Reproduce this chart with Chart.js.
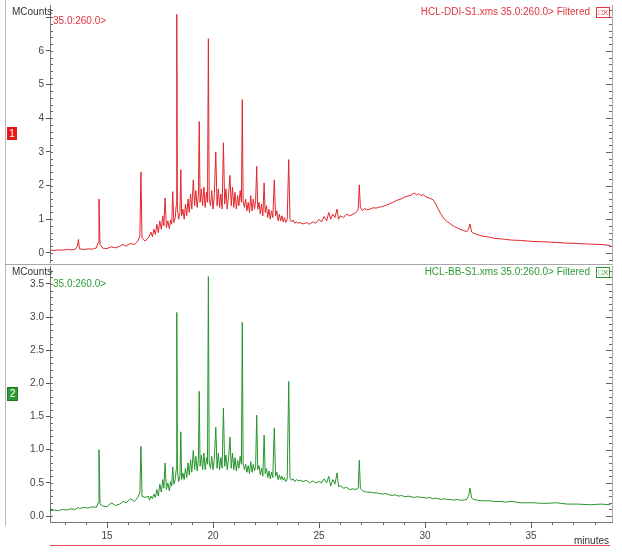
<!DOCTYPE html>
<html>
<head>
<meta charset="utf-8">
<script src="https://cdn.jsdelivr.net/npm/chart.js@4/dist/chart.umd.min.js"></script>
<style>
  body { margin: 0; width: 622px; height: 552px; background: #fff; position: relative; overflow: hidden;
         font-family: "Liberation Sans", Arial, sans-serif; }
  canvas { position: absolute; left: 0; }
  .t { position: absolute; font-size: 10px; white-space: nowrap; line-height: 12px; }
  .unit { color: #333; }
  .red { color: #e0353d; }
  .green { color: #2e9a34; }
  .box { position: absolute; width: 10px; height: 13px; font-size: 10px; line-height: 13px; text-align: center; color: #fff; }
  .ic { position: absolute; width: 12px; height: 9px; font-size: 8px; line-height: 9px; text-align: center; }
</style>
</head>
<body>
<div style="position:absolute;left:5px;top:0;width:1px;height:526px;background:#b8b8b8"></div>
<div style="position:absolute;left:5px;top:264px;width:608px;height:1px;background:#a8a8a8"></div>

<canvas id="ddiChart" width="622" height="264" style="top:0"></canvas>
<canvas id="bbChart" width="622" height="288" style="top:264px"></canvas>

<div class="t unit" style="left:12px;top:6px">MCounts</div>
<div class="t red" style="left:53px;top:15px">35.0:260.0&gt;</div>
<div class="t red" style="right:32px;top:6px">HCL-DDI-S1.xms 35.0:260.0&gt; Filtered</div>
<div class="ic" style="left:596px;top:7px;border:1px solid #e0353d;color:#e0353d">&#9633;X</div>
<div class="box" style="left:7px;top:127px;background:#e81818">1</div>

<div class="t unit" style="left:12px;top:266px">MCounts</div>
<div class="t green" style="left:53px;top:278px">35.0:260.0&gt;</div>
<div class="t green" style="right:32px;top:266px">HCL-BB-S1.xms 35.0:260.0&gt; Filtered</div>
<div class="ic" style="left:596px;top:267px;border:1px solid #2e9a34;color:#2e9a34">&#9633;X</div>
<div class="box" style="left:7px;top:387px;background:#2e9a34;border:1px solid #1d7a22;width:9px;height:12px;line-height:12px">2</div>

<div class="t unit" style="left:574px;top:535px">minutes</div>
<div style="position:absolute;left:50px;top:545px;width:560px;height:1px;background:#e34a4a"></div>

<script>
// retention time (minutes), shared by both traces
const minutes = [
  12.31,12.50,12.70,12.90,13.10,13.30,13.50,13.60,13.65,13.70,
  13.90,14.10,14.30,14.50,14.58,14.62,14.67,14.80,15.00,15.20,
  15.40,15.60,15.75,15.90,16.10,16.30,16.45,16.55,16.60,16.65,
  16.80,16.95,
  17.00,17.07,17.14,17.21,17.28,17.35,17.42,17.49,17.56,17.63,
  17.68,17.74,17.80,17.87,17.94,18.00,18.05,18.10,18.15,18.22,
  18.26,18.29,18.32,18.38,18.44,18.48,18.52,18.58,18.64,18.70,
  18.76,18.82,18.88,18.94,19.00,19.07,19.13,19.19,19.25,19.31,
  19.35,19.39,19.45,19.51,19.57,19.63,19.69,19.74,19.78,19.82,
  19.88,19.94,20.00,20.06,20.13,20.19,20.25,20.31,20.37,20.43,
  20.49,20.55,20.61,20.67,20.73,20.80,20.86,20.92,20.98,21.04,
  21.10,21.16,21.22,21.28,21.34,21.38,21.42,21.48,21.54,21.60,
  21.66,21.72,21.78,21.84,21.90,21.96,22.01,22.06,22.11,22.17,
  22.23,22.29,22.35,22.41,22.46,22.52,22.58,22.64,22.70,22.76,
  22.82,22.89,22.95,23.01,23.07,23.13,23.19,23.25,23.31,23.37,
  23.43,23.50,23.57,23.63,23.70,23.78,23.86,23.94,24.02,24.10,
  24.25,24.40,24.55,24.70,24.85,25.00,25.12,25.24,25.36,25.46,
  25.55,25.65,25.75,25.85,25.92,26.00,26.15,26.30,26.45,26.60,
  26.75,26.85,26.90,26.95,27.05,27.15,27.25,27.40,27.55,27.70,
  27.85,28.00,28.15,28.30,28.45,28.60,28.75,28.90,29.05,29.20,
  29.35,29.50,29.60,29.70,29.80,29.91,30.05,30.20,30.38,30.50,
  30.62,30.75,30.90,31.02,31.20,31.35,31.50,31.65,31.80,31.97,
  32.05,32.12,32.20,32.30,32.44,32.70,33.00,33.30,33.54,33.80,
  34.10,34.50,35.09,35.60,36.20,36.70,37.20,37.80,38.30,38.75
];

// HCL-DDI-S1 (MCounts)
const ddiCounts = [
  0.08,0.07,0.09,0.08,0.10,0.09,0.11,0.20,0.40,0.12,
  0.10,0.12,0.11,0.15,0.30,1.60,0.25,0.14,0.13,0.18,
  0.15,0.20,0.25,0.20,0.28,0.25,0.35,0.50,2.40,0.45,
  0.35,0.45,
  0.50,0.62,0.48,0.70,0.55,0.85,0.60,0.95,0.70,1.10,
  0.80,1.63,0.75,0.95,0.72,0.98,0.85,1.82,0.90,1.05,
  1.40,7.08,1.30,1.00,1.20,2.47,1.10,1.30,1.00,1.45,
  1.10,1.60,1.20,1.75,1.30,2.17,1.40,1.85,1.35,1.70,
  3.90,1.50,1.90,1.40,1.95,1.35,1.80,1.50,6.36,1.60,
  1.40,1.85,1.30,1.70,3.00,1.40,1.90,1.35,1.75,1.30,
  3.27,1.45,1.90,1.30,1.70,2.30,1.40,1.95,1.35,1.80,
  1.30,1.70,1.40,1.85,1.50,4.55,1.55,1.35,1.60,1.25,
  1.50,1.20,1.70,1.25,1.60,1.30,1.55,2.57,1.30,1.50,
  1.15,1.45,1.10,2.08,1.20,1.40,1.05,1.30,1.00,1.25,
  1.05,2.17,1.10,1.25,0.95,1.15,0.95,1.10,0.92,1.05,
  0.90,1.00,2.77,1.00,0.92,0.98,0.88,0.92,0.88,0.90,
  0.86,0.90,0.85,0.92,0.88,1.00,0.92,1.08,0.95,1.20,
  1.00,1.15,1.05,1.30,1.00,1.10,1.05,1.15,1.10,1.15,
  1.20,1.30,2.02,1.35,1.25,1.32,1.28,1.30,1.34,1.33,
  1.36,1.38,1.41,1.45,1.49,1.54,1.58,1.61,1.66,1.69,
  1.72,1.78,1.72,1.76,1.70,1.73,1.66,1.63,1.58,1.46,
  1.30,1.16,1.01,0.94,0.86,0.79,0.75,0.70,0.67,0.63,
  0.70,0.86,0.62,0.58,0.55,0.50,0.47,0.43,0.42,0.40,
  0.38,0.37,0.34,0.33,0.31,0.29,0.28,0.26,0.25,0.22
];

// HCL-BB-S1 (MCounts)
const bbCounts = [
  0.08,0.09,0.08,0.10,0.09,0.11,0.10,0.12,0.13,0.11,
  0.13,0.12,0.14,0.13,0.20,1.00,0.18,0.15,0.14,0.20,
  0.16,0.18,0.22,0.20,0.26,0.22,0.28,0.35,1.05,0.30,
  0.28,0.30,
  0.24,0.30,0.26,0.33,0.28,0.40,0.30,0.48,0.36,0.55,
  0.42,0.80,0.40,0.50,0.38,0.52,0.45,0.74,0.48,0.55,
  0.70,3.07,0.68,0.52,0.60,1.27,0.55,0.65,0.55,0.72,
  0.58,0.80,0.62,0.85,0.66,0.99,0.70,0.90,0.68,0.85,
  1.88,0.75,0.92,0.70,0.95,0.70,0.88,0.78,3.61,0.80,
  0.72,0.90,0.70,0.85,1.34,0.72,0.95,0.70,0.88,0.72,
  1.63,0.75,0.92,0.70,0.85,1.19,0.72,0.95,0.70,0.88,
  0.68,0.84,0.72,0.90,0.78,2.92,0.80,0.70,0.78,0.66,
  0.76,0.64,0.82,0.66,0.78,0.68,0.75,1.52,0.70,0.76,
  0.62,0.72,0.60,1.22,0.64,0.72,0.58,0.68,0.56,0.66,
  0.58,1.33,0.60,0.66,0.55,0.62,0.55,0.60,0.54,0.58,
  0.52,0.56,2.03,0.58,0.54,0.56,0.52,0.55,0.53,0.54,
  0.52,0.54,0.50,0.53,0.50,0.52,0.50,0.56,0.50,0.60,
  0.45,0.55,0.48,0.65,0.44,0.46,0.42,0.43,0.40,0.41,
  0.40,0.42,0.84,0.42,0.38,0.37,0.36,0.36,0.35,0.35,
  0.34,0.33,0.34,0.32,0.31,0.32,0.30,0.31,0.29,0.30,
  0.29,0.28,0.29,0.29,0.28,0.28,0.27,0.28,0.26,0.27,
  0.26,0.25,0.26,0.25,0.25,0.24,0.25,0.24,0.24,0.25,
  0.30,0.42,0.27,0.25,0.24,0.23,0.23,0.22,0.22,0.21,
  0.22,0.20,0.20,0.19,0.20,0.18,0.18,0.17,0.18,0.17
];

const timeRange = [12.31, 38.82];

// small ruler ticks on the y axes (left and right) and the time axis
const rulerTicks = {
  id: "rulerTicks",
  afterDraw(chart, args, opts) {
    const ctx = chart.ctx;
    const a = chart.chartArea;
    const y = chart.scales.y;
    ctx.save();
    ctx.strokeStyle = "#666";
    ctx.lineWidth = 1;
    const line = (x1, y1, x2, y2) => {
      ctx.beginPath();
      ctx.moveTo(x1, y1);
      ctx.lineTo(x2, y2);
      ctx.stroke();
    };
    for (let i = Math.ceil(y.min / opts.yMinor); i * opts.yMinor <= y.max; i++) {
      const p = Math.round(y.getPixelForValue(i * opts.yMinor)) + 0.5;
      line(a.left, p, a.left + 3, p);
      line(a.right - 3, p, a.right, p);
    }
    for (let i = Math.ceil(y.min / opts.yMajor); i * opts.yMajor <= y.max; i++) {
      const p = Math.round(y.getPixelForValue(i * opts.yMajor)) + 0.5;
      line(a.right - 6, p, a.right, p);
    }
    ctx.strokeStyle = "#aaa";
    line(a.right + 0.5, a.top, a.right + 0.5, a.bottom);
    if (opts.xMinor) {
      const x = chart.scales.x;
      ctx.strokeStyle = "#666";
      for (let i = Math.ceil(x.min / opts.xMinor); i * opts.xMinor <= x.max; i++) {
        const p = Math.round(x.getPixelForValue(i * opts.xMinor)) + 0.5;
        line(p, a.bottom, p, a.bottom + 3);
      }
    }
    ctx.restore();
  }
};

// drop the label overhang padding so layout.padding alone sets the plot box
const noOverhang = s => {
  s.paddingTop = 0;
  s.paddingBottom = 0;
  s.paddingLeft = 0;
  s.paddingRight = 0;
};

const makeChart = (id, values, color, yMin, yMax, yStep, fmt, showX, padding, xMinor) => {
  return new Chart(document.getElementById(id), {
    type: "line",
    data: {
      datasets: [{
        data: minutes.map((t, i) => ({ x: t, y: values[i] })),
        borderColor: color,
        borderWidth: 1,
        pointRadius: 0,
        tension: 0,
        fill: false,
      }]
    },
    options: {
      responsive: false,
      animation: false,
      layout: { padding },
      plugins: {
        legend: { display: false },
        tooltip: { enabled: false },
        rulerTicks: { yMinor: yStep / 5, yMajor: yStep, xMinor },
      },
      scales: {
        x: {
          type: "linear",
          min: timeRange[0],
          max: timeRange[1],
          display: showX,
          ticks: { stepSize: 5, includeBounds: false, maxRotation: 0, color: "#444",
                   font: { size: 10, family: "Liberation Sans" }, padding: 2 },
          grid: { drawOnChartArea: false, tickLength: 6, color: "#555" },
          border: { color: "#777" },
          afterFit: s => { s.height = showX ? 20 : 0; noOverhang(s); },
        },
        y: {
          min: yMin,
          max: yMax,
          ticks: { stepSize: yStep, includeBounds: false, color: "#444", callback: fmt,
                   font: { size: 10, family: "Liberation Sans" }, padding: 2 },
          grid: { drawOnChartArea: false, tickLength: 4, color: "#555" },
          border: { color: "#777" },
          afterFit: s => { s.width = 50; noOverhang(s); },
        }
      }
    },
    plugins: [rulerTicks]
  });
};

makeChart("ddiChart", ddiCounts, "rgb(226,38,44)", -0.27, 7.36, 1,
  v => (v > 6.5 ? "" : String(Math.round(v))), false, { top: 5, right: 10, bottom: 2, left: 0 }, null);

makeChart("bbChart", bbCounts, "rgb(38,148,44)", -0.09, 3.77, 0.5,
  v => v.toFixed(1), true, { top: 2, right: 10, bottom: 10, left: 0 }, 1);
</script>
</body>
</html>
